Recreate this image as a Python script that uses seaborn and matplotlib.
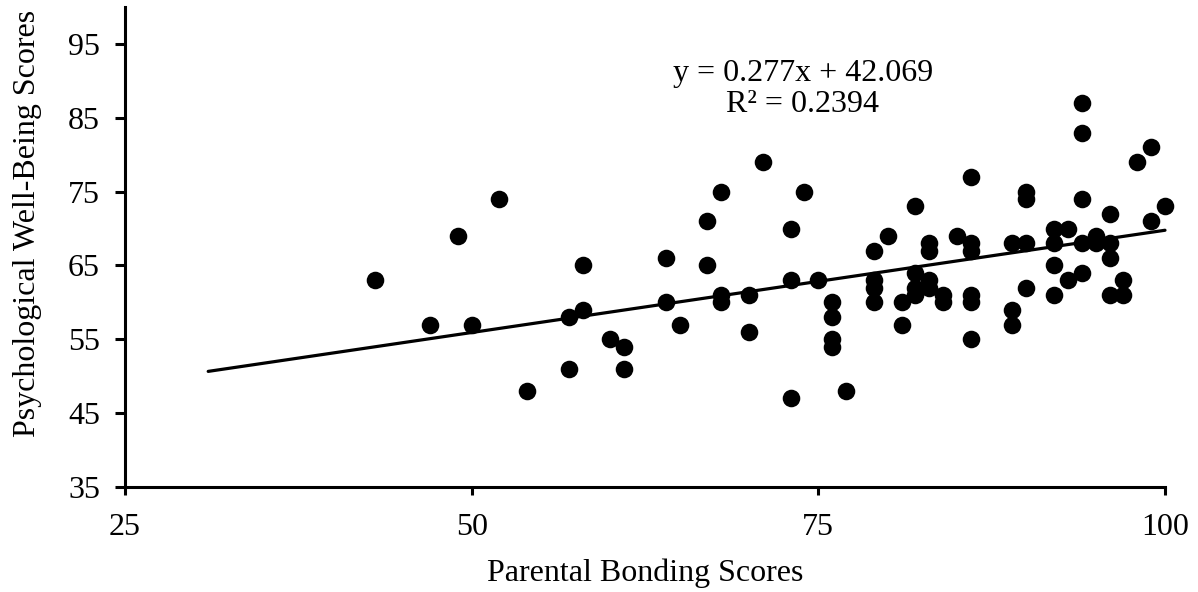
import matplotlib
matplotlib.use("Agg")
import matplotlib.pyplot as plt
import seaborn as sns
import pandas as pd
import numpy as np

# Data
parental_bonding = [43, 47, 49, 50, 52, 54, 57, 57, 58, 58, 60, 61, 61, 64, 64, 65,
                    67, 67, 68, 68, 68, 70, 70, 71, 73, 73, 73, 74, 75, 76, 76, 76,
                    76, 77, 79, 79, 79, 79, 80, 81, 81, 82, 82, 82, 82, 83, 83, 83,
                    83, 84, 84, 85, 86, 86, 86, 86, 86, 86, 89, 89, 89, 90, 90, 90,
                    90, 92, 92, 92, 92, 93, 93, 94, 94, 94, 94, 94, 95, 95, 96, 96,
                    96, 96, 97, 97, 98, 99, 99, 100]
well_being = [63, 57, 69, 57, 74, 48, 58, 51, 65, 59, 55, 54, 51, 66, 60, 57,
              71, 65, 75, 61, 60, 61, 56, 79, 70, 63, 47, 75, 63, 60, 58, 55,
              54, 48, 67, 63, 62, 60, 69, 60, 57, 73, 64, 62, 61, 68, 67, 63,
              62, 61, 60, 69, 77, 68, 67, 61, 60, 55, 68, 59, 57, 75, 74, 68,
              62, 70, 68, 65, 61, 70, 63, 87, 83, 74, 68, 64, 69, 68, 72, 68,
              66, 61, 63, 61, 79, 81, 71, 73]

trend_slope = 0.277
trend_intercept = 42.069
trend_r2 = 0.2394
trend_x_range = [31, 100]

x_ticks = [25, 50, 75, 100]
y_ticks = [35, 45, 55, 65, 75, 85, 95]

x_label = "Parental Bonding Scores"
y_label = "Psychological Well-Being Scores"

sns.set_theme(style="white")
plt.rcParams['font.family'] = ['Liberation Serif', 'DejaVu Serif']

fig = plt.figure(figsize=(11.98, 5.92), dpi=100)
ax = fig.add_axes([125/1198, 1 - 487/592, (1165 - 125)/1198, (487 - 7)/592])

df = pd.DataFrame({"x": parental_bonding, "y": well_being})
sns.scatterplot(data=df, x="x", y="y", ax=ax, color="black", s=160,
                edgecolor="black", linewidth=0, clip_on=False, zorder=3)

trend_df = pd.DataFrame({"x": trend_x_range,
                         "y": [trend_slope * v + trend_intercept for v in trend_x_range]})
sns.lineplot(data=trend_df, x="x", y="y", ax=ax, color="black", linewidth=2.3,
             clip_on=False, zorder=2)

ax.set_xlim(25, 100)
ax.set_ylim(35, 100)
ax.set_xticks(x_ticks)
ax.set_yticks(y_ticks)
ax.set_xticklabels([str(t) for t in x_ticks])
ax.set_yticklabels([str(t) for t in y_ticks])

for side in ["top", "right"]:
    ax.spines[side].set_visible(False)
for side in ["left", "bottom"]:
    ax.spines[side].set_color("black")
    ax.spines[side].set_linewidth(2.2)

ax.tick_params(axis="x", which="major", direction="out", length=6, width=2.2,
               color="black", labelsize=23, pad=13, bottom=True)
ax.tick_params(axis="y", which="major", direction="out", length=7, width=2.2,
               color="black", labelsize=23, pad=11, left=True)
for lab in ax.get_xticklabels() + ax.get_yticklabels():
    lab.set_color("black")

ax.set_xlabel("")
ax.set_ylabel("")
fig.text(645/1198, 1 - 573/592, x_label, ha="center", va="center",
         fontsize=23, color="black")
fig.text(28/1198, 1 - 223/592, y_label, ha="center", va="center",
         rotation=90, fontsize=23, color="black")

fig.text(803/1198, 1 - 73/592, f"y = {trend_slope}x + {trend_intercept}",
         ha="center", va="center", fontsize=23, color="black")
fig.text(803/1198, 1 - 105/592, f"R² = {trend_r2}",
         ha="center", va="center", fontsize=23, color="black")

ax.grid(False)
fig.savefig("out.png", dpi=100, facecolor="white")
